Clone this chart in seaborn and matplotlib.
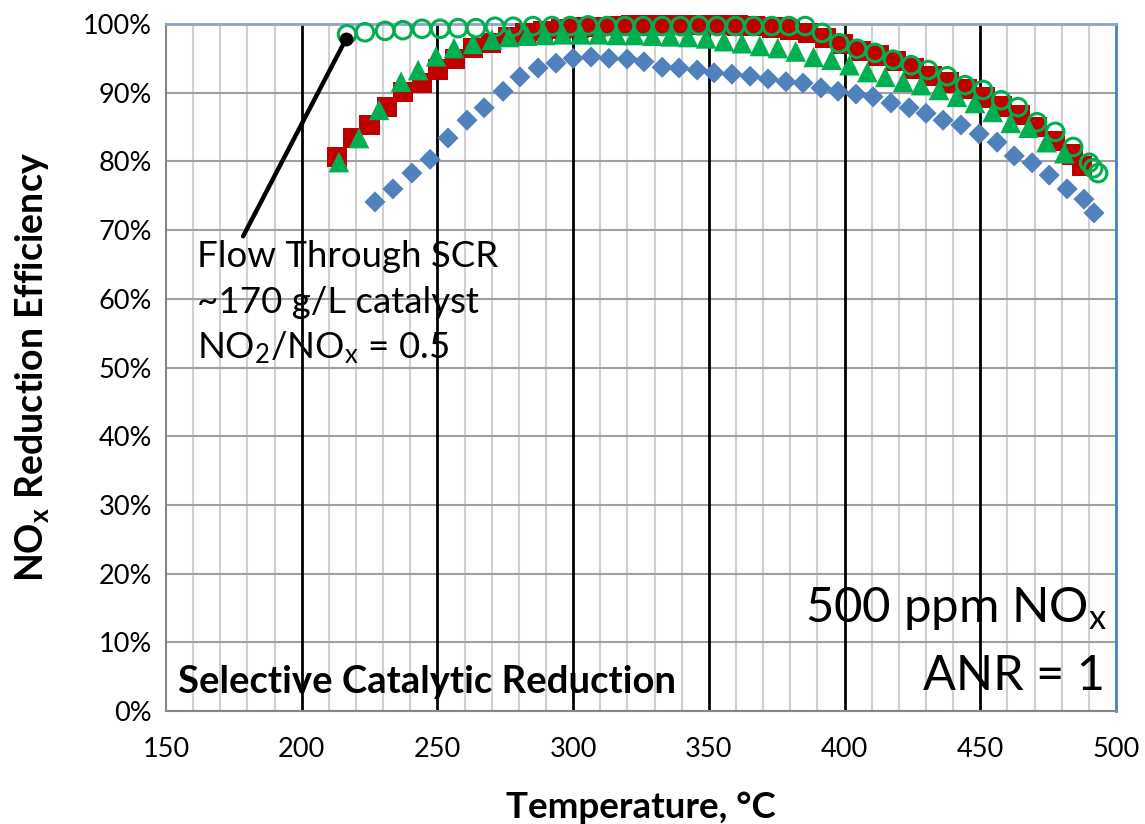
import matplotlib
matplotlib.use("Agg")
import matplotlib.pyplot as plt
import seaborn as sns
from matplotlib.ticker import MultipleLocator, PercentFormatter

# ---------------- data ----------------
temp_blue = [227.0, 233.6, 240.6, 247.3, 253.9, 260.9, 267.2, 274.2, 280.4, 287.1,
             293.7, 300.0, 306.6, 313.2, 319.9, 326.1, 332.8, 339.0, 345.7, 351.9,
             358.5, 365.2, 371.8, 378.4, 384.7, 391.3, 397.6, 404.2, 410.5, 417.1,
             423.8, 430.0, 436.3, 442.9, 449.6, 456.2, 462.5, 469.1, 475.4, 482.0,
             488.2, 491.9]
eff_blue = [74.1, 76.0, 78.3, 80.3, 83.4, 86.0, 87.8, 90.2, 92.3, 93.6,
            94.3, 95.0, 95.2, 95.0, 94.9, 94.5, 93.7, 93.6, 93.3, 92.9,
            92.7, 92.4, 92.0, 91.6, 91.4, 90.7, 90.2, 89.8, 89.4, 88.5,
            87.8, 87.0, 86.0, 85.3, 84.0, 82.8, 80.8, 79.8, 78.0, 76.0,
            74.5, 72.5]

temp_red = [213.0, 219.0, 225.0, 231.4, 237.3, 244.3, 250.2, 256.5, 263.1, 269.7,
            276.0, 282.5, 289.0, 295.5, 302.0, 308.5, 315.0, 321.5, 328.0, 334.5,
            341.0, 347.5, 354.0, 360.5, 367.0, 373.5, 380.0, 386.5, 393.0, 399.5,
            406.0, 412.5, 419.0, 425.5, 432.0, 438.5, 445.0, 451.5, 458.0, 464.5,
            471.0, 477.5, 484.0, 487.5]
eff_red = [80.6, 83.4, 85.3, 87.9, 90.1, 91.4, 93.4, 94.9, 96.5, 97.2,
           98.1, 98.6, 99.0, 99.3, 99.5, 99.6, 99.7, 99.8, 99.8, 99.9,
           99.9, 99.9, 99.9, 99.8, 99.7, 99.5, 99.2, 98.7, 98.0, 97.1,
           96.1, 95.4, 94.6, 93.5, 92.4, 91.5, 90.5, 89.3, 88.0, 86.8,
           85.0, 83.0, 81.0, 79.3]

temp_tri = [213.7, 221.1, 228.5, 236.6, 242.9, 249.5, 256.1, 263.1, 270.1, 276.4,
            283.0, 289.6, 296.2, 302.8, 309.4, 316.0, 322.6, 329.2, 335.8, 342.4,
            349.0, 355.6, 362.2, 368.8, 375.4, 382.0, 388.6, 395.2, 401.8, 408.4,
            415.0, 421.6, 428.2, 434.8, 441.4, 448.0, 454.6, 461.2, 467.8, 474.4,
            481.0]
eff_tri = [79.9, 83.4, 87.5, 91.6, 93.3, 95.3, 96.5, 97.1, 97.7, 98.1,
           98.3, 98.4, 98.5, 98.5, 98.5, 98.4, 98.4, 98.3, 98.2, 98.1,
           97.9, 97.5, 97.2, 96.8, 96.5, 96.0, 95.2, 94.8, 94.0, 93.0,
           92.3, 91.6, 91.1, 90.4, 89.4, 88.5, 87.2, 85.6, 84.9, 82.8,
           81.2]

temp_circ = [216.7, 223.3, 230.7, 237.3, 244.3, 251.0, 257.6, 264.2, 271.2, 277.9,
             285.2, 292.2, 298.9, 305.5, 312.5, 319.1, 325.8, 332.8, 339.5, 346.3,
             353.0, 359.8, 366.5, 373.2, 379.5, 385.5, 391.7, 398.0, 404.6, 411.2,
             417.9, 424.5, 430.8, 437.8, 444.4, 451.0, 457.7, 463.9, 470.9, 477.6,
             484.2, 490.1, 491.6, 493.4]
eff_circ = [98.5, 98.8, 99.0, 99.1, 99.3, 99.3, 99.4, 99.4, 99.6, 99.6,
            99.7, 99.7, 99.7, 99.8, 99.7, 99.7, 99.7, 99.7, 99.7, 99.8,
            99.7, 99.7, 99.7, 99.7, 99.7, 99.7, 98.7, 97.2, 96.4, 95.8,
            94.8, 94.0, 93.3, 92.4, 91.1, 90.4, 88.9, 87.9, 85.7, 84.3,
            82.1, 79.8, 79.0, 78.3]

x_ticks = [150, 200, 250, 300, 350, 400, 450, 500]
y_ticks = [0, 10, 20, 30, 40, 50, 60, 70, 80, 90, 100]

note_lines = ["Flow Through SCR", "~170 g/L catalyst", r"NO$_2$/NO$_\mathrm{x}$ = 0.5"]
cond_lines = [r"500 ppm NO$_\mathrm{x}$", "ANR = 1"]
title_text = "Selective Catalytic Reduction"

# ---------------- style ----------------
sns.set_style("white")
plt.rcParams["font.family"] = ["Lato", "DejaVu Sans"]
plt.rcParams["mathtext.fontset"] = "custom"
plt.rcParams["mathtext.rm"] = "Lato"
plt.rcParams["mathtext.it"] = "Lato"
plt.rcParams["mathtext.bf"] = "Lato:bold"
plt.rcParams["mathtext.default"] = "rm"
plt.rcParams["text.color"] = "black"
plt.rcParams["axes.labelcolor"] = "black"

fig = plt.figure(figsize=(11.45, 8.24), dpi=100)
ax = fig.add_axes([166 / 1145, 1 - 711 / 824, (1116 - 166) / 1145, (711 - 24) / 824])

# series
sns.scatterplot(x=temp_blue, y=eff_blue, marker="D", s=115, color="#4F81BD",
                edgecolor="none", ax=ax, zorder=3, clip_on=False)
sns.scatterplot(x=temp_red, y=eff_red, marker="s", s=215, color="#C00000",
                edgecolor="none", ax=ax, zorder=4, clip_on=False)
sns.scatterplot(x=temp_tri, y=eff_tri, marker="^", s=220, color="#00B050",
                edgecolor="none", ax=ax, zorder=5, clip_on=False)
sns.scatterplot(x=temp_circ, y=eff_circ, marker="o", s=160, facecolor="none",
                edgecolor="#00B050", linewidth=2.2, ax=ax, zorder=6, clip_on=False)

# axes limits / ticks
ax.set_xlim(x_ticks[0], x_ticks[-1])
ax.set_ylim(y_ticks[0], y_ticks[-1])
ax.set_xticks(x_ticks)
ax.set_yticks(y_ticks)
ax.xaxis.set_minor_locator(MultipleLocator(10))
ax.yaxis.set_minor_locator(MultipleLocator(2))
ax.yaxis.set_major_formatter(PercentFormatter(100, decimals=0))

ax.tick_params(axis="both", which="major", direction="out", length=7, width=1.3,
               color="#868686", labelsize=19.5, labelcolor="black")
ax.tick_params(axis="x", which="major", pad=12)
ax.tick_params(axis="y", which="major", pad=3)
ax.tick_params(axis="both", which="minor", direction="in", length=5, width=1.0,
               color="#868686")

# gridlines
ax.grid(which="minor", axis="x", color="#D0D0D0", linewidth=1.5)
ax.grid(which="major", axis="y", color="#A0A0A0", linewidth=1.5)
ax.grid(which="major", axis="x", visible=False)
for xv in x_ticks[1:-1]:
    ax.axvline(xv, color="black", linewidth=2.0, zorder=1.5)
ax.set_axisbelow(True)

# spines
for side in ["left", "bottom"]:
    ax.spines[side].set_color("#868686")
    ax.spines[side].set_linewidth(1.5)
ax.spines["top"].set_color("#8EA4C8")
ax.spines["top"].set_linewidth(2.0)
ax.spines["right"].set_color("#4A7EBB")
ax.spines["right"].set_linewidth(2.0)

# labels
ax.set_xlabel("Temperature, °C", fontsize=26.5, fontweight="bold", color="black")
ax.set_ylabel(r"NO$_\mathbf{x}$ Reduction Efficiency", fontsize=27, fontweight="bold",
              color="black")
ax.xaxis.set_label_coords(0.5, -0.117)
ax.yaxis.set_label_coords(-0.121, 0.5)

# annotation (pointer to first circle)
ax.annotate("", xy=(216.3, 97.8), xytext=(178.4, 69.1),
            arrowprops=dict(arrowstyle="-", lw=3.2, color="black", shrinkA=0, shrinkB=0),
            zorder=7, annotation_clip=False)
ax.plot([216.3], [97.8], marker="o", markersize=9, color="black", zorder=8, clip_on=False)

for txt, yv in zip(note_lines, [64.6, 57.9, 51.4]):
    ax.text(161.3, yv, txt, fontsize=26.4, ha="left", va="baseline", zorder=9,
            color="black")

ax.text(496.7, 13.0, cond_lines[0], fontsize=35.4, ha="right", va="baseline", zorder=9,
        color="black")
ax.text(496.0, 3.0, cond_lines[1], fontsize=35, ha="right", va="baseline", zorder=9,
        color="black")
ax.text(154.4, 2.6, title_text, fontsize=27.5, fontweight="bold", ha="left",
        va="baseline", zorder=9, color="black")

fig.savefig("out.png", dpi=100, facecolor="white")
